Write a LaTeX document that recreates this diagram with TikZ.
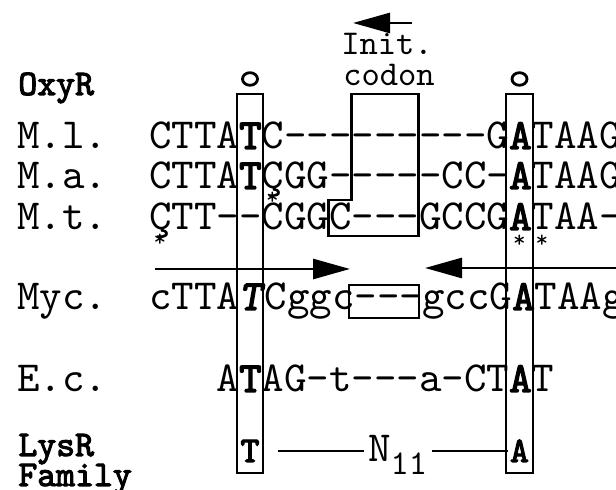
\documentclass[tikz,border=0pt]{standalone}
\usepackage{fontspec}
\newfontfamily\seqfont{lmmono10-regular.otf}[
  BoldFont=lmmono10-regular.otf,
  BoldFeatures={FakeBold=3},
  ItalicFont=lmmonoslant10-regular.otf,
  BoldItalicFont=lmmonoslant10-regular.otf,
  BoldItalicFeatures={FakeBold=3}]
\usetikzlibrary{positioning, arrows.meta, shapes.geometric}
\newcommand\gp{\mbox{-}}

\begin{document}
\begin{tikzpicture}[
    x=0.5pt, y=-0.5pt,
    seqrow/.style={anchor=base west, inner sep=0pt, font=\seqfont\fontsize{21.43pt}{24pt}\selectfont},
    rowlbl/.style={seqrow},
    famlbl/.style={anchor=base west, inner sep=0pt, font=\seqfont\bfseries\fontsize{18pt}{20pt}\selectfont},
    note/.style={anchor=base, inner sep=0pt, font=\seqfont\fontsize{17.4pt}{20pt}\selectfont},
    boxch/.style={anchor=base, inner sep=1pt, font=\seqfont\bfseries\fontsize{18pt}{20pt}\selectfont},
    star/.style={inner sep=0pt, font=\seqfont\fontsize{12pt}{14pt}\selectfont},
    ring/.style={ellipse, draw, line width=1.4pt, minimum width=7.5pt, minimum height=6.3pt, inner sep=0pt},
    colbox/.style={draw, line width=1.4pt},
    link/.style={draw, line width=1.1pt},
    arrow/.style={-{Triangle[length=18.5pt,width=10pt]}, line width=1.4pt}
  ]
  \useasboundingbox (0,0) rectangle (616,490);

  % row labels
  \node[famlbl] (oxyr) at (18,95) {OxyR};
  \node[rowlbl] (lml) at (17,149) {M.l.};
  \node[rowlbl] (lma) at (17,189) {M.a.};
  \node[rowlbl] (lmt) at (17,230) {M.t.};
  \node[rowlbl] (lmyc) at (17,310) {Myc.};
  \node[rowlbl] (lec) at (17,392) {E.c.};
  \node[famlbl] (lysr) at (18,456) {LysR};
  \node[famlbl] (family) at (18,486) {Family};

  % sequences
  \node[seqrow] (sml) at (148.8,149) {CTTA\textbf{T}C\gp\gp\gp\gp\gp\gp\gp\gp\gp G\textbf{A}TAAG};
  \node[seqrow] (sma) at (148.8,189) {CTTA\textbf{T}ÇGG\gp\gp\gp\gp\gp CC\gp\textbf{A}TAAG};
  \node[seqrow] (smt) at (148.8,230) {ÇTT\gp\gp CGGC\gp\gp\gp GCCG\textbf{A}TAA\gp};
  \node[seqrow] (smyc) at (148.8,310) {cTTA\textbf{\textit{T}}Cggc\gp\gp\gp gccG\textbf{A}TAAg};
  \node[seqrow] (sec) at (216.3,392) {A\textbf{T}AG\gp t\gp\gp\gp a\gp CT\textbf{A}T};

  % differences
  \node[star] (st1) at (272.5,198) {*};
  \node[star] (st2) at (160,240) {*};
  \node[star] (st3) at (519.5,241) {*};
  \node[star] (st4) at (542,241) {*};

  % start codon
  \node[note] (init) at (387,55) {Init.};
  \node[note] (codon) at (389,86) {codon};
  \coordinate (ta-tail) at (412,23);
  \coordinate (ta-head) at (353,23);
  \draw[arrow] (ta-tail) -- (ta-head);

  % conserved T and A
  \node[ring] (oT) at (250,79) {};
  \node[ring] (oA) at (519.5,79) {};
  \draw[colbox] (237,94) rectangle (263,473);
  \draw[colbox] (506,94) rectangle (533,473);
  \draw[colbox] (351.3,94) -- (418.8,94) -- (418.8,236) -- (328.8,236)
    -- (328.8,200) -- (351.3,200) -- cycle;
  \draw[colbox] (349,285) rectangle (419,318);

  % inverted repeat
  \coordinate (fwd-tail) at (155,269);
  \coordinate (fwd-head) at (350,269);
  \coordinate (rev-tail) at (622,268);
  \coordinate (rev-head) at (425,268);
  \draw[arrow] (fwd-tail) -- (fwd-head);
  \draw[arrow] (rev-tail) -- (rev-head);

  % LysR family motif
  \node[boxch] (tLy) at (250,462) {T};
  \node[boxch] (aLy) at (519.5,462) {A};
  \node[anchor=base west, inner sep=2pt, font=\seqfont\fontsize{21.43pt}{24pt}\selectfont] (n11)
    at (363.75,462) {N\raisebox{-6.5pt}{\fontsize{17.4pt}{20pt}\selectfont 11}};
  \draw[link] ([xshift=8pt]tLy.east) -- (n11.west |- tLy.east);
  \draw[link] (n11.east |- aLy.west) -- (aLy.west);
\end{tikzpicture}
\end{document}
